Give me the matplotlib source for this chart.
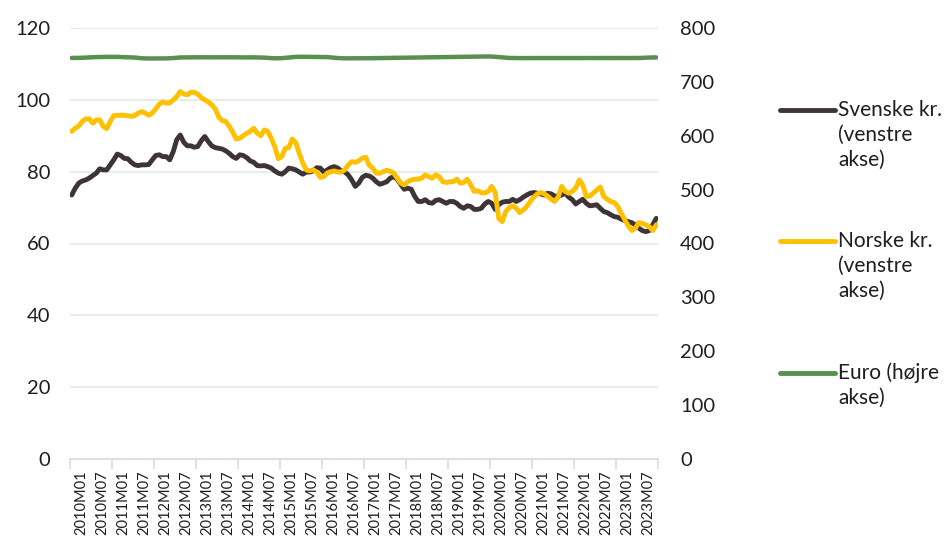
import numpy as np
import matplotlib
matplotlib.use("Agg")
import matplotlib.pyplot as plt
from matplotlib.lines import Line2D

plt.rcParams['font.family'] = ['Lato', 'DejaVu Sans']

# ---- data (2010M01 .. 2023M12, monthly) ----
years = list(range(2010, 2024))
months = [f"{y}M{m:02d}" for y in years for m in range(1, 13)]
tick_labels = [f"{y}M{m}" for y in years for m in ("01", "07")]

svenske = [
    73.5, 75.4, 76.8, 77.4, 77.7, 78.2, 78.9, 79.6, 80.8, 80.5, 80.5, 81.9,
    83.3, 84.9, 84.5, 83.7, 83.6, 82.6, 81.9, 81.7, 81.9, 81.9, 82.0, 83.3,
    84.5, 84.7, 84.2, 84.2, 83.3, 85.6, 88.9, 90.2, 88.2, 87.2, 87.2, 86.8,
    87.0, 88.6, 89.8, 88.4, 87.2, 86.7, 86.5, 86.3, 85.8, 85.1, 84.2, 83.7,
    84.7, 84.5, 83.9, 83.0, 82.6, 81.7, 81.6, 81.7, 81.4, 81.0, 80.2, 79.6,
    79.3, 80.0, 81.0, 80.8, 80.5, 79.9, 79.3, 79.9, 79.9, 80.2, 81.1, 81.0,
    79.9, 80.5, 81.1, 81.4, 81.0, 80.2, 79.9, 79.1, 77.7, 75.9, 76.8, 78.4,
    79.0, 78.8, 78.2, 77.2, 76.5, 76.8, 77.2, 78.2, 78.6, 77.9, 76.5, 75.1,
    75.4, 75.1, 73.1, 71.7, 71.7, 72.2, 71.4, 71.2, 72.0, 72.2, 71.7, 71.2,
    71.7, 71.7, 71.2, 70.3, 69.8, 70.5, 70.3, 69.5, 69.5, 69.8, 71.0, 71.7,
    71.2, 69.5, 70.8, 71.5, 71.7, 71.7, 72.3, 71.7, 72.2, 72.9, 73.5, 74.0,
    74.2, 74.0, 73.8, 73.5, 74.0, 73.8, 73.2, 73.2, 73.5, 74.0, 72.9, 72.2,
    71.0, 71.7, 72.3, 71.2, 70.5, 70.6, 70.8, 69.8, 68.9, 68.6, 68.0, 67.5,
    67.3, 66.8, 66.4, 66.1, 65.8, 65.2, 64.3, 63.6, 63.3, 63.6, 65.2, 67.0,
]

norske = [
    91.2, 92.1, 92.7, 94.0, 94.7, 94.7, 93.5, 94.4, 94.4, 92.6, 92.0, 94.0,
    95.6, 95.7, 95.7, 95.7, 95.6, 95.4, 95.6, 96.3, 96.7, 96.3, 95.7, 96.3,
    97.5, 98.8, 99.4, 99.1, 99.1, 100.0, 100.9, 102.3, 101.6, 101.4, 102.1, 102.1,
    101.6, 100.6, 100.0, 99.4, 98.6, 97.5, 95.2, 94.2, 94.0, 92.6, 91.0, 89.1,
    89.3, 90.0, 90.7, 91.2, 92.1, 90.7, 90.0, 91.6, 91.2, 89.3, 87.0, 83.6,
    84.2, 86.5, 86.7, 89.1, 88.1, 85.1, 82.4, 80.5, 80.2, 80.5, 79.9, 78.4,
    78.6, 79.6, 80.0, 80.2, 79.9, 79.9, 80.5, 81.9, 82.8, 82.6, 83.0, 83.8,
    84.0, 81.8, 81.0, 79.6, 79.6, 80.0, 80.4, 80.1, 79.6, 78.2, 76.8, 76.3,
    77.2, 77.7, 77.9, 77.9, 78.2, 79.1, 78.6, 78.2, 79.1, 78.6, 77.2, 77.0,
    77.2, 77.2, 77.9, 76.8, 77.0, 77.9, 76.3, 74.5, 74.7, 74.1, 74.1, 74.5,
    75.9, 74.1, 67.0, 66.1, 68.9, 70.0, 70.5, 69.8, 68.6, 69.3, 70.3, 71.7,
    72.9, 73.8, 74.2, 73.8, 73.2, 72.3, 71.7, 73.0, 75.9, 74.5, 74.0, 74.5,
    75.4, 77.7, 76.3, 73.1, 73.2, 74.0, 74.9, 75.7, 73.1, 72.3, 71.7, 71.4,
    70.3, 68.4, 66.6, 64.9, 63.6, 64.2, 65.8, 65.6, 65.2, 64.7, 63.6, 65.2,
]

euro = [
    744.5, 744.4, 744.6, 744.8, 745.0, 745.5, 745.8, 746.0, 746.2, 746.3, 746.4, 746.3,
    746.3, 746.4, 746.2, 746.0, 745.9, 745.6, 745.2, 744.5, 743.8, 743.5, 743.4, 743.4,
    743.3, 743.4, 743.5, 743.6, 743.8, 744.2, 744.8, 745.3, 745.4, 745.5, 745.6, 745.5,
    745.6, 745.7, 745.6, 745.5, 745.5, 745.6, 745.7, 745.8, 745.7, 745.6, 745.5, 745.6,
    745.5, 745.4, 745.5, 745.6, 745.5, 745.4, 745.3, 745.0, 744.5, 743.9, 743.7, 743.8,
    744.0, 744.6, 745.3, 746.0, 746.4, 746.6, 746.6, 746.5, 746.6, 746.5, 746.4, 746.3,
    746.2, 746.0, 745.5, 744.8, 744.2, 743.9, 743.7, 743.7, 743.6, 743.7, 743.8, 743.7,
    743.8, 743.9, 744.0, 744.1, 744.2, 744.4, 744.4, 744.5, 744.7, 744.6, 744.7, 744.9,
    744.9, 745.0, 745.2, 745.2, 745.3, 745.5, 745.5, 745.7, 745.8, 745.8, 746.0, 746.1,
    746.1, 746.3, 746.4, 746.4, 746.6, 746.8, 746.8, 747.0, 747.1, 747.2, 747.3, 747.2,
    747.0, 746.6, 746.0, 745.4, 744.8, 744.4, 744.3, 744.2, 744.2, 744.1, 744.2, 744.3,
    744.2, 744.1, 744.2, 744.2, 744.3, 744.2, 744.1, 744.2, 744.3, 744.2, 744.2, 744.1,
    744.2, 744.3, 744.2, 744.1, 744.2, 744.2, 744.3, 744.2, 744.2, 744.1, 744.2, 744.3,
    744.2, 744.2, 744.3, 744.2, 744.3, 744.4, 744.3, 744.6, 745.0, 745.3, 745.4, 745.3,
]

series_names = ["Svenske kr.\n(venstre\nakse)", "Norske kr.\n(venstre\nakse)", "Euro (højre\nakse)"]
colors = ["#3E3437", "#FFC000", "#5A8F52"]
GRID = "#E4ECE4"
AXIS = "#D7E2D7"
TXT = "#1E1E1E"

W, H = 952, 540
fig = plt.figure(figsize=(W / 100, H / 100), dpi=100)
L, R, T, B = 70, 658, 28, 459
ax = fig.add_axes([L / W, 1 - B / H, (R - L) / W, (B - T) / H])
ax2 = ax.twinx()

x = np.arange(len(months)) + 0.5
ax.plot(x, svenske, color=colors[0], lw=3.5, solid_capstyle='round', solid_joinstyle='round', zorder=3)
ax.plot(x, norske, color=colors[1], lw=3.5, solid_capstyle='round', solid_joinstyle='round', zorder=4)
ax2.plot(x, euro, color=colors[2], lw=3.2, solid_capstyle='round', solid_joinstyle='round', zorder=3)

ax.set_xlim(0, len(months))
ax.set_ylim(0, 120)
ax2.set_ylim(0, 800)
ax.set_yticks(np.arange(0, 121, 20))
ax2.set_yticks(np.arange(0, 801, 100))

for a in (ax, ax2):
    for s in a.spines.values():
        s.set_visible(False)
ax.spines['bottom'].set_visible(True)
ax.spines['bottom'].set_color(AXIS)
ax.spines['bottom'].set_linewidth(1.3)

ax.grid(axis='y', color=GRID, lw=1.3)
ax.set_axisbelow(True)
ax.tick_params(axis='y', length=0, pad=14, labelsize=14.5, labelcolor=TXT)
ax2.tick_params(axis='y', length=0, pad=16, labelsize=14.5, labelcolor=TXT)

# year boundary tick marks
ax.set_xticks(np.arange(0, len(months) + 1, 12))
ax.set_xticklabels([])
ax.tick_params(axis='x', which='major', length=7, width=1.3, color=AXIS, direction='out')
# label positions (every 6 months)
ax.set_xticks(np.arange(len(tick_labels)) * 6 + 3.3, minor=True)
ax.set_xticklabels(tick_labels, minor=True, rotation=90, fontsize=10.5, color=TXT)
ax.tick_params(axis='x', which='minor', length=0, pad=8)

ax.set_zorder(ax2.get_zorder() + 1)
ax.patch.set_visible(False)

# legend
ys = [110, 241, 373]
for name, c, y0 in zip(series_names, colors, ys):
    fig.add_artist(Line2D([780 / W, 835 / W], [1 - y0 / H] * 2, color=c, lw=3.5,
                          solid_capstyle='round'))
    for k, line in enumerate(name.split("\n")):
        fig.text(838 / W, 1 - (y0 + 25 * k) / H, line, fontsize=15, color=TXT,
                 va='center', ha='left')

fig.savefig("out.png", dpi=100)
